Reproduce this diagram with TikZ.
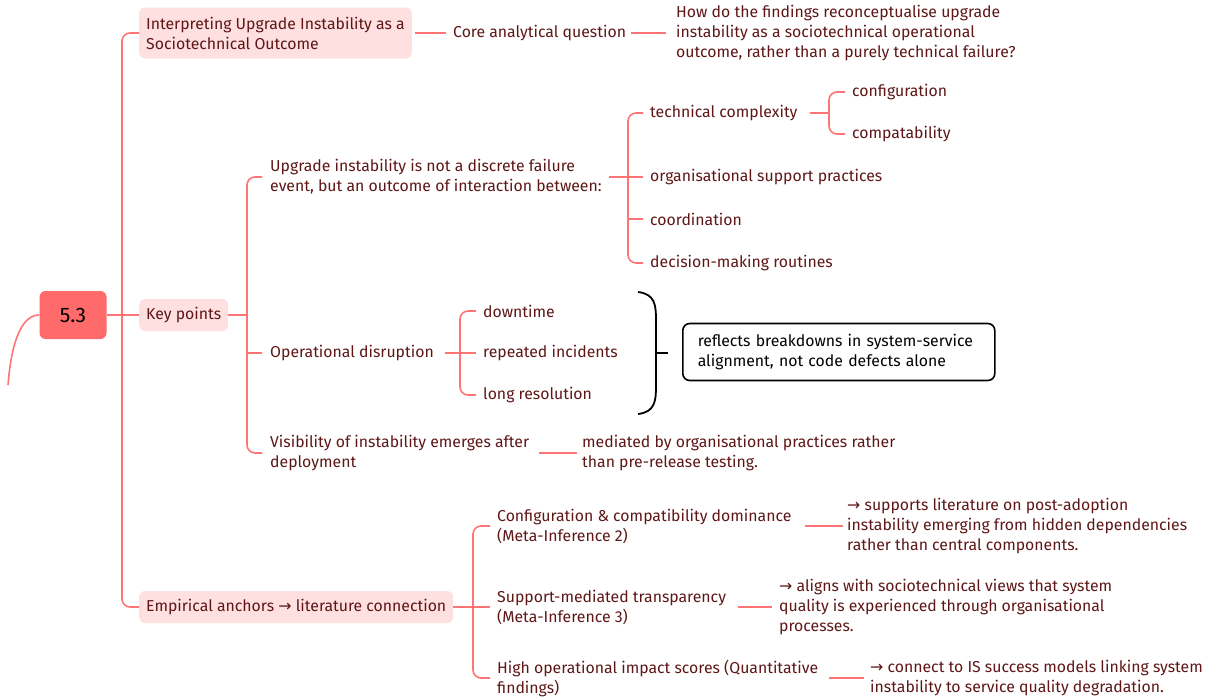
\documentclass[tikz,border=0pt]{standalone}
\usepackage{fontspec}
\setmainfont{Fira Sans}
\newfontfamily\arrowfont{DejaVu Sans}
\newcommand\ra{{\arrowfont →}}
\definecolor{branch}{HTML}{FF7474}
\definecolor{ink}{HTML}{5E1616}
\definecolor{chipfill}{HTML}{FFE0E0}
\definecolor{rootfill}{HTML}{FF6B6B}
\begin{document}
\begin{tikzpicture}[x=1pt,y=-1pt,
  label/.style={anchor=west, inner sep=0pt, text=ink, align=left,
    font=\fontsize{15.8}{20}\selectfont},
  chip/.style={label, fill=chipfill, rounded corners=6pt, inner xsep=7pt, inner ysep=6pt},
  rootbox/.style={fill=rootfill, rounded corners=6pt, minimum width=67pt,
    minimum height=48pt, inner sep=0pt, text=black, font=\fontsize{21}{24}\selectfont},
  note/.style={anchor=west, draw=black, line width=1.6pt, rounded corners=7pt,
    inner xsep=15pt, minimum height=57pt, text width=282pt, align=left, text=black,
    font=\fontsize{15.8}{20}\selectfont},
  link/.style={draw=branch, line width=1.6pt},
  fork/.style={link, rounded corners=8pt}]
\useasboundingbox (0,0) rectangle (1219,699);

% root and first-level topics
\node[rootbox] (root) at (73,315) {5.3};
\node[chip, minimum height=51pt] (t1) at (139,33) {Interpreting Upgrade Instability as a\\Sociotechnical Outcome};
\node[chip, minimum height=32pt] (key) at (139,315) {Key points};
\node[chip, minimum height=32pt] (emp) at (139,607) {Empirical anchors \ra{} literature connection};

% topic 1
\node[label] (core) at (453,33) {Core analytical question};
\node[label] (q) at (676,33) {How do the findings reconceptualise upgrade\\instability as a sociotechnical operational\\outcome, rather than a purely technical failure?};

% key points
\node[label] (upg) at (270,177) {Upgrade instability is not a discrete failure\\event, but an outcome of interaction between:};
\node[label] (tech) at (650,113) {technical complexity};
\node[label] (org) at (650,177) {organisational support practices};
\node[label] (coord) at (650,219) {coordination};
\node[label] (dec) at (650,263) {decision-making routines};
\node[label] (conf) at (852,92) {configuration};
\node[label] (comp) at (852,134) {compatability};
\node[label] (op) at (270,353) {Operational disruption};
\node[label] (down) at (483,311) {downtime};
\node[label] (rep) at (483,353) {repeated incidents};
\node[label] (long) at (483,395) {long resolution};
\node[note] (refl) at (682,352) {reflects breakdowns in system-service\\alignment, not code defects alone};
\node[label] (vis) at (270,453) {Visibility of instability emerges after\\deployment};
\node[label] (med) at (582,453) {mediated by organisational practices rather\\than pre-release testing.};

% empirical anchors
\node[label] (cd) at (497,526) {Configuration \& compatibility dominance\\(Meta-Inference 2)};
\node[label] (sm) at (497,607) {Support-mediated transparency\\(Meta-Inference 3)};
\node[label] (hi) at (497,678) {High operational impact scores (Quantitative\\findings)};
\node[label] (l1) at (847,526) {\ra{} supports literature on post-adoption\\instability emerging from hidden dependencies\\rather than central components.};
\node[label] (l2) at (779,607) {\ra{} aligns with sociotechnical views that system\\quality is experienced through organisational\\processes.};
\node[label] (l3) at (870,678) {\ra{} connect to IS success models linking system\\instability to service quality degradation.};

% branch points
\coordinate (tail) at (8,385);
\coordinate (trunk) at (122,315);
\coordinate (kf) at (247,315);
\coordinate (uf) at (628,177);
\coordinate (tf) at (829,113);
\coordinate (of) at (460,353);
\coordinate (ef) at (473,607);

% main trunk
\draw[link] (root.west) .. controls (24,315) and (12,335) .. (tail);
\draw[link] (root.east) -- (key.west);
\draw[fork] (t1.west) -| (trunk) |- (emp.west);

% topic 1 chain
\draw[link] ([xshift=3pt]t1.east) -- ([xshift=-7pt]core.west);
\draw[link] ([xshift=5pt]core.east) -- ([xshift=-10pt]q.west);

% key points forks
\draw[link] (key.east) -- (kf);
\draw[fork] ([xshift=-8pt]upg.west) -| (kf) |- ([xshift=-8pt]vis.west);
\draw[link] (kf |- op.west) -- ([xshift=-8pt]op.west);

\draw[link] ([xshift=7pt]upg.east) -- ([xshift=-7pt]org.west);
\draw[fork] ([xshift=-7pt]tech.west) -| (uf) |- ([xshift=-7pt]dec.west);
\draw[link] (uf |- coord.west) -- ([xshift=-7pt]coord.west);

\draw[link] ([xshift=12pt]tech.east) -- (tf);
\draw[fork] ([xshift=-7pt]conf.west) -| (tf) |- ([xshift=-7pt]comp.west);

\draw[link] ([xshift=11pt]op.east) -- ([xshift=-7pt]rep.west);
\draw[fork] ([xshift=-7pt]down.west) -| (of) |- ([xshift=-7pt]long.west);

% closing brace over the disruption items
\draw[black, line width=1.8pt] (638,292) .. controls (655,294) and (656,305) .. (656,320)
  -- (656,386) .. controls (656,401) and (655,412) .. (638,414);
\draw[black, line width=1.8pt] (656,353) -- (668,353);

\draw[link] ([xshift=10pt]vis.east) -- ([xshift=-5pt]med.west);

% empirical anchors forks
\draw[link] (emp.east) -- ([xshift=-7pt]sm.west);
\draw[fork] ([xshift=-7pt]cd.west) -| (ef) |- ([xshift=-7pt]hi.west);
\draw[link] ([xshift=13pt]cd.east) -- ([xshift=-4pt]l1.west);
\draw[link] ([xshift=12pt]sm.east) -- ([xshift=-7pt]l2.west);
\draw[link] ([xshift=11pt]hi.east) -- ([xshift=-6pt]l3.west);
\end{tikzpicture}
\end{document}
